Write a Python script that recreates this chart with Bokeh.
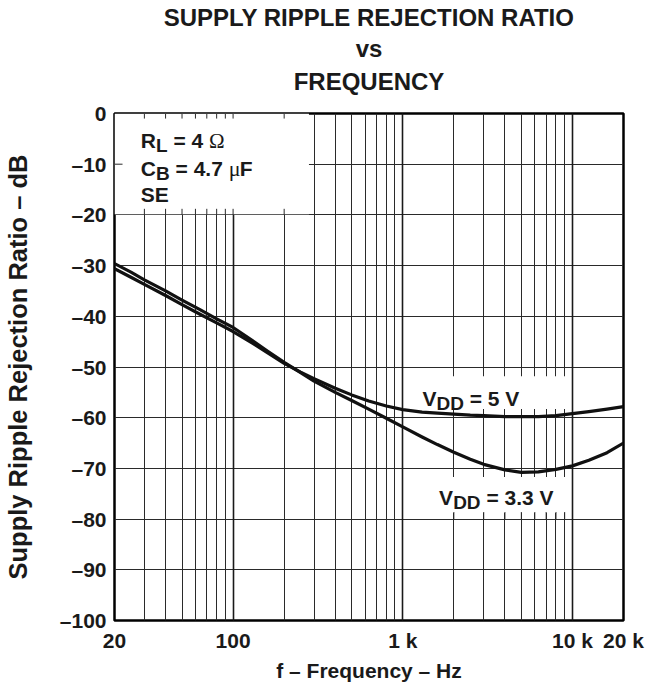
from bokeh.plotting import figure
from bokeh.models import FixedTicker, Range1d, Grid, LinearAxis
from bokeh.core.properties import value
from bokeh.embed import file_html
from bokeh.resources import INLINE

# ---------------- data ----------------
freq = [20, 25, 30, 40, 50, 63, 80, 100, 130, 160, 200, 250, 300, 400, 500, 630,
        800, 1000, 1300, 1600, 2000, 2500, 3000, 4000, 5000, 6300, 8000, 10000,
        12500, 16000, 20000]
ksvr_vdd_3v3 = [-29.6, -31.3, -32.8, -35.0, -36.8, -38.6, -40.5, -42.2, -44.8, -46.9,
                -49.1, -51.1, -52.8, -55.0, -56.6, -58.3, -60.1, -61.8, -63.8, -65.3,
                -66.8, -68.2, -69.2, -70.3, -70.8, -70.7, -70.2, -69.5, -68.4, -66.9, -65.0]
ksvr_vdd_5v = [-30.6, -32.3, -33.7, -35.9, -37.7, -39.5, -41.3, -43.0, -45.3, -47.2,
               -49.3, -51.0, -52.3, -54.2, -55.5, -56.7, -57.7, -58.4, -58.9, -59.1,
               -59.3, -59.5, -59.6, -59.8, -59.8, -59.8, -59.6, -59.2, -58.8, -58.3, -57.8]

x_ticks = [20, 100, 1000, 10000, 20000]
x_tick_labels = ["20", "100", "1 k", "10 k", "20 k"]
x_grid_lines = [30, 40, 50, 60, 70, 80, 90, 100, 200, 300, 400, 500, 600, 700, 800, 900,
                1000, 2000, 3000, 4000, 5000, 6000, 7000, 8000, 9000, 10000]
x_decades = [100, 1000, 10000]
y_ticks = [0, -10, -20, -30, -40, -50, -60, -70, -80, -90, -100]
y_tick_labels = ["0", "\u201310", "\u201320", "\u201330", "\u201340", "\u201350",
                 "\u201360", "\u201370", "\u201380", "\u201390", "\u2013100"]

title_lines = ["SUPPLY RIPPLE REJECTION RATIO", "vs", "FREQUENCY"]
x_label = "f \u2013 Frequency \u2013 Hz"
y_label = "Supply Ripple Rejection Ratio \u2013 dB"

FONT = "Liberation Sans"
SERIF = "Liberation Serif"
INK = "#1a1a1a"
GRID = "#2a2a2a"

# ---------------- figure ----------------
p = figure(x_axis_type="log", x_range=Range1d(20, 20000), y_range=Range1d(-100, 0),
           frame_width=509, frame_height=507,
           min_border_left=112, min_border_right=32, min_border_top=112, min_border_bottom=65,
           output_backend="svg", toolbar_location=None)

p.background_fill_color = "white"
p.border_fill_color = "white"
p.outline_line_color = "black"
p.outline_line_width = 2.5

xax = p.below[0]
yax = p.left[0]


def bare(ax):
    ax.axis_line_color = None
    ax.major_tick_line_color = None
    ax.minor_tick_line_color = None
    ax.major_tick_out = 0
    ax.major_tick_in = 0
    ax.minor_tick_out = 0
    ax.minor_tick_in = 0


# title: three centred lines, stacked outward from the frame (label-only axes)
for txt, standoff in zip(reversed(title_lines), [19, 3, 1]):
    tax = LinearAxis(ticker=FixedTicker(ticks=[]), axis_label=txt,
                     axis_label_standoff=standoff)
    bare(tax)
    tax.major_label_text_font_size = "0px"
    tax.major_label_standoff = 0
    tax.axis_label_text_font = FONT
    tax.axis_label_text_font_size = "24px"
    tax.axis_label_text_font_style = "bold"
    tax.axis_label_text_color = INK
    p.add_layout(tax, "above")

# main axes
xax.ticker = FixedTicker(ticks=x_ticks, minor_ticks=[])
xax.major_label_overrides = dict(zip(x_ticks, x_tick_labels))
yax.ticker = FixedTicker(ticks=y_ticks, minor_ticks=[])
yax.major_label_overrides = dict(zip(y_ticks, y_tick_labels))
for ax in (xax, yax):
    bare(ax)
    ax.major_label_text_font = FONT
    ax.major_label_text_font_size = "21px"
    ax.major_label_text_font_style = "bold"
    ax.major_label_text_color = INK
    ax.axis_label_text_font = FONT
    ax.axis_label_text_font_style = "bold"
    ax.axis_label_text_color = INK
xax.major_label_standoff = 8
yax.major_label_standoff = 8
xax.axis_label = x_label
xax.axis_label_text_font_size = "21px"
xax.axis_label_standoff = 4
yax.axis_label = y_label
yax.axis_label_text_font_size = "25.5px"
yax.axis_label_standoff = 25

# grid
p.xgrid.ticker = FixedTicker(ticks=x_grid_lines)
p.ygrid.ticker = FixedTicker(ticks=y_ticks)
p.grid.grid_line_color = GRID
p.grid.grid_line_width = 1
p.grid.grid_line_alpha = 1
p.add_layout(Grid(dimension=0, ticker=FixedTicker(ticks=x_decades),
                  grid_line_color=INK, grid_line_width=1.6))

# ---------------- white boxes behind annotations ----------------
BOX_TL = dict(left=20, right=280, top=0, bottom=-19.85)
BOX_5V = dict(left=1066, right=9300, top=-51.8, bottom=-58.3)
BOX_33 = dict(left=1496, right=9460, top=-71.7, bottom=-78.8)
for b in (BOX_TL, BOX_5V, BOX_33):
    p.quad(left=[b["left"]], right=[b["right"]], top=[b["top"]], bottom=[b["bottom"]],
           fill_color="white", line_color=None)

# short grid stubs along the box edges
stub_x = [g for g in x_grid_lines if BOX_TL["left"] < g < BOX_TL["right"]]
n = len(stub_x)
p.segment(x0=stub_x, y0=[0] * n, x1=stub_x, y1=[-1.0] * n, line_color=GRID, line_width=1)
p.segment(x0=stub_x, y0=[-20] * n, x1=stub_x, y1=[-18.8] * n, line_color=GRID, line_width=1)
p.segment(x0=[20], y0=[-10], x1=[22.3], y1=[-10], line_color=GRID, line_width=1)
stub_x2 = [g for g in x_grid_lines if BOX_33["left"] < g < BOX_33["right"]]
m = len(stub_x2)
p.segment(x0=stub_x2, y0=[-80] * m, x1=stub_x2, y1=[-78.6] * m, line_color=GRID, line_width=1)

# ---------------- curves ----------------
p.line(freq, ksvr_vdd_5v, line_color="#111111", line_width=3.2, line_join="round")
p.line(freq, ksvr_vdd_3v3, line_color="#111111", line_width=3.2, line_join="round")

# ---------------- rich text labels (subscripts / symbols) ----------------
W_BOLD = {'R': .722, 'L': .611, 'C': .722, 'B': .722, 'S': .667, 'E': .667, 'V': .667,
          'D': .722, 'F': .611, ' ': .278, '=': .584, '.': .278}
for d in "0123456789":
    W_BOLD[d] = .556
W_SERIF = {'\u03a9': .768, '\u03bc': .5}


def rich(x, y, pieces):
    off = 0.0
    for txt, serif, size, dy in pieces:
        table = W_SERIF if serif else W_BOLD
        lead = len(txt) - len(txt.lstrip(" "))
        shown = txt.strip(" ")
        p.text(x=[x], y=[y], text=[shown], x_offset=off + lead * W_BOLD[' '] * size,
               y_offset=dy,
               text_font=value(SERIF if serif else FONT),
               text_font_style="normal" if serif else "bold",
               text_font_size=f"{size}px", text_color=INK,
               text_align="left", text_baseline="alphabetic")
        off += sum(table.get(ch, .278) for ch in txt) * size


rich(28.6, -5.4, [("R", False, 21, 0), ("L", False, 19, 5), (" = 4 ", False, 21, 0),
                  ("\u03a9", True, 21, 0)])
rich(28.6, -10.8, [("C", False, 21, 0), ("B", False, 19, 5), (" = 4.7 ", False, 21, 0),
                   ("\u03bc", True, 22, 0), ("F", False, 21, 0)])
rich(28.6, -15.9, [("SE", False, 21, 0)])
rich(1306, -56.2, [("V", False, 21, 0), ("DD", False, 19, 5), (" = 5 V", False, 21, 0)])
rich(1638, -75.8, [("V", False, 21, 0), ("DD", False, 19, 5), (" = 3.3 V", False, 21, 0)])

open("out.html", "w").write(file_html(p, INLINE))
